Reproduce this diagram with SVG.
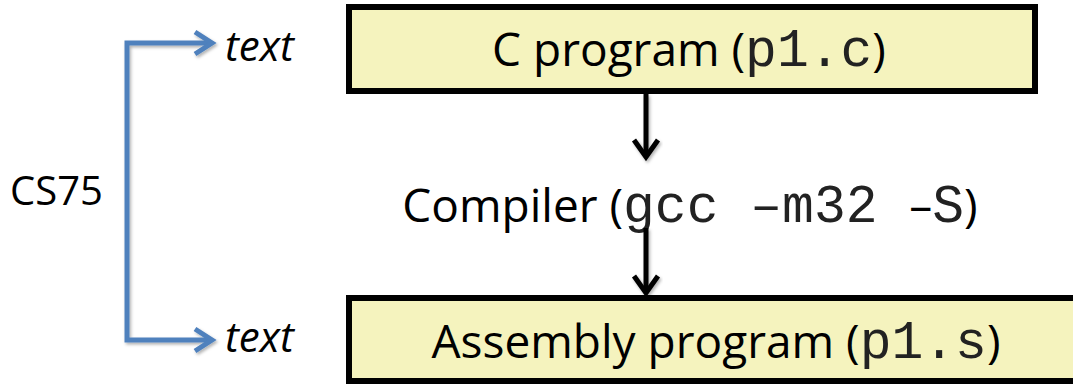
<svg xmlns="http://www.w3.org/2000/svg" width="1073" height="384" viewBox="0 0 1073 384">
  <style>
    .box { fill: #f5f3be; stroke: #000; stroke-width: 6; }
    .lbl { font-family: "Open Sans", "Liberation Sans", sans-serif; font-size: 46px; fill: #000; }
    .mono { font-family: "Liberation Mono", "Courier New", monospace; font-size: 53px; fill: #222; }
    .side { font-family: "Open Sans", "Liberation Sans", sans-serif; font-size: 40px; fill: #000; }
    .it { font-style: italic; font-size: 42px; }
    .blk { fill: none; stroke: #000; stroke-width: 5; }
    .blue { fill: none; stroke: #4f81bd; stroke-width: 5; stroke-linejoin: miter; }
  </style>
  <defs>
    <filter id="sh" x="-10%" y="-10%" width="130%" height="130%">
      <feDropShadow dx="1.5" dy="2" stdDeviation="1.5" flood-color="#000" flood-opacity="0.3"/>
    </filter>
  </defs>

  <g id="node-c-program">
    <rect class="box" x="349" y="7" width="686" height="84"/>
    <text class="lbl" x="689" y="66" text-anchor="middle">C program (<tspan class="mono">p1.c</tspan>)</text>
  </g>

  <g id="node-compiler">
    <text class="lbl" x="690" y="222" text-anchor="middle">Compiler (<tspan class="mono">gcc –m32 </tspan>–<tspan class="mono">S</tspan>)</text>
  </g>

  <g id="node-assembly">
    <rect class="box" x="349" y="298" width="740" height="83"/>
    <text class="lbl" x="716" y="358" text-anchor="middle">Assembly program (<tspan class="mono">p1.s</tspan>)</text>
  </g>

  <g id="node-cs75">
    <text class="side" x="10" y="205">CS75</text>
  </g>
  <g id="node-text-top">
    <text class="side it" x="225" y="61">text</text>
  </g>
  <g id="node-text-bottom">
    <text class="side it" x="225" y="352">text</text>
  </g>

  <g id="connectors">
    <g filter="url(#sh)">
      <line class="blk" x1="646" y1="94" x2="646" y2="156"/>
      <polyline class="blk" points="634,140 646,157 658,140"/>
      <line class="blk" x1="646" y1="228" x2="646" y2="293"/>
      <polyline class="blk" points="634,276 646,293 658,276"/>
    </g>
    <g filter="url(#sh)">
      <polyline class="blue" points="211,43 127,43 127,340 211,340"/>
      <polyline class="blue" points="195,32 212,43 195,54"/>
      <polyline class="blue" points="195,329 212,340 195,351"/>
    </g>
  </g>
</svg>
